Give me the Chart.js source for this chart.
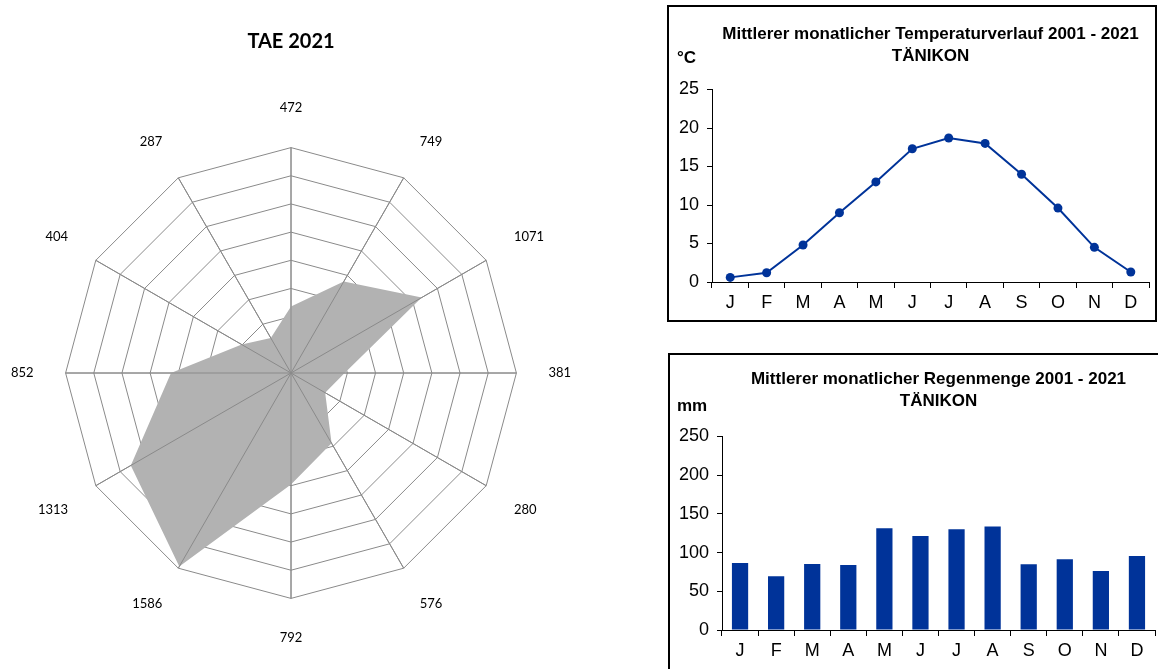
<!DOCTYPE html>
<html>
<head>
<meta charset="utf-8">
<script src="https://cdn.jsdelivr.net/npm/chart.js@4/dist/chart.umd.min.js"></script>
<style>
  body { margin: 0; background: #fff; width: 1158px; height: 669px; overflow: hidden; position: relative; }
  .box { position: absolute; border: 2px solid #000; background: #fff; }
  .unit { position: absolute; font: bold 17px "Liberation Sans", Arial, sans-serif; color: #000; }
</style>
</head>
<body>
<div style="position:absolute; left:0; top:0;"><canvas id="radarChart" width="582" height="669"></canvas></div>

<div class="box" style="left:667px; top:5px; width:486px; height:313px;">
  <canvas id="tempChart" width="486" height="313"></canvas>
</div>
<div class="unit" style="left:677px; top:48px;">°C</div>

<div class="box" style="left:668px; top:353px; width:488px; height:330px;">
  <canvas id="rainChart" width="488" height="313"></canvas>
</div>
<div class="unit" style="left:677px; top:396px;">mm</div>

<script>
// Valeurs du graphique radar (les étiquettes sont les valeurs elles-mêmes)
const radarValues = [472, 749, 1071, 381, 280, 576, 792, 1586, 1313, 852, 404, 287];
const radarLabels = ['472', '749', '1071', '381', '280', '576', '792', '1586', '1313', '852', '404', '287'];

// Données mensuelles Tänikon
const months = ['J', 'F', 'M', 'A', 'M', 'J', 'J', 'A', 'S', 'O', 'N', 'D'];
const temperature = [0.6, 1.2, 4.8, 9.0, 13.0, 17.3, 18.7, 18.0, 14.0, 9.6, 4.5, 1.3];
const rainfall = [86.5, 69.6, 85.2, 83.9, 131.5, 121.5, 130.2, 133.6, 84.8, 91.3, 76.1, 95.6];

const blue = '#003399';
const arial = '"Liberation Sans", Arial, sans-serif';

// spokes drawn over the filled area, like the original
const spokesOnTop = {
    id: 'spokesOnTop',
    afterDatasetsDraw(chart) {
        const scale = chart.scales.r;
        const ctx = chart.ctx;
        ctx.save();
        ctx.strokeStyle = '#8a8a8a';
        ctx.lineWidth = 1;
        for (let i = 0; i < chart.data.labels.length; i++) {
            const p = scale.getPointPositionForValue(i, scale.max);
            ctx.beginPath();
            ctx.moveTo(scale.xCenter, scale.yCenter);
            ctx.lineTo(p.x, p.y);
            ctx.stroke();
        }
        ctx.restore();
    }
};

new Chart(document.getElementById('radarChart').getContext('2d'), {
    type: 'radar',
    data: {
        labels: radarLabels,
        datasets: [{
            data: radarValues,
            backgroundColor: '#b2b2b2',
            borderWidth: 0,
            pointRadius: 0,
            fill: true
        }]
    },
    options: {
        responsive: false,
        animation: false,
        layout: { padding: { bottom: 22 } },
        plugins: {
            legend: { display: false },
            tooltip: { enabled: false },
            title: {
                display: true,
                text: 'TAE 2021',
                color: '#000',
                font: { family: 'Lato', size: 20, weight: 'bold' },
                padding: { top: 30, bottom: 46 }
            }
        },
        scales: {
            r: {
                min: 0,
                max: 1600,
                ticks: { stepSize: 200, display: false },
                grid: { color: '#8a8a8a', lineWidth: 1 },
                angleLines: { color: '#8a8a8a', lineWidth: 1 },
                pointLabels: {
                    color: '#000',
                    font: { family: 'Lato', size: 13 },
                    padding: 32
                }
            }
        }
    },
    plugins: [spokesOnTop]
});

function axisOpts(extra) {
    return Object.assign({
        border: { display: true, color: '#000', width: 1 },
        grid: { display: true, drawOnChartArea: false, drawTicks: true, tickLength: 5, color: '#000' }
    }, extra);
}

new Chart(document.getElementById('tempChart').getContext('2d'), {
    type: 'line',
    data: {
        labels: months,
        datasets: [{
            data: temperature,
            borderColor: blue,
            backgroundColor: blue,
            borderWidth: 2,
            pointRadius: 4.5,
            pointBackgroundColor: blue,
            pointBorderWidth: 0,
            tension: 0
        }]
    },
    options: {
        responsive: false,
        animation: false,
        layout: { padding: { right: 6 } },
        plugins: {
            legend: { display: false },
            tooltip: { enabled: false },
            title: {
                display: true,
                fullSize: false,
                text: ['Mittlerer monatlicher Temperaturverlauf 2001 - 2021', 'TÄNIKON'],
                color: '#000',
                font: { family: arial, size: 17, weight: 'bold', lineHeight: 1.25 },
                padding: { top: 17, bottom: 23 }
            }
        },
        scales: {
            x: axisOpts({
                offset: true,
                grid: { display: true, offset: true, drawOnChartArea: false, drawTicks: true, tickLength: 6, color: '#000' },
                ticks: { color: '#000', padding: 4, font: { family: arial, size: 18 } },
                afterFit(scale) { scale.height = 38; }
            }),
            y: axisOpts({
                min: 0,
                max: 25,
                ticks: { stepSize: 5, color: '#000', padding: 8, font: { family: arial, size: 18 } },
                afterFit(scale) { scale.width = 43; }
            })
        }
    }
});

new Chart(document.getElementById('rainChart').getContext('2d'), {
    type: 'bar',
    data: {
        labels: months,
        datasets: [{
            data: rainfall,
            backgroundColor: blue,
            barPercentage: 0.9,
            categoryPercentage: 0.5
        }]
    },
    options: {
        responsive: false,
        animation: false,
        layout: { padding: { right: 3 } },
        plugins: {
            legend: { display: false },
            tooltip: { enabled: false },
            title: {
                display: true,
                fullSize: false,
                text: ['Mittlerer monatlicher Regenmenge 2001 - 2021', 'TÄNIKON'],
                color: '#000',
                font: { family: arial, size: 17, weight: 'bold', lineHeight: 1.25 },
                padding: { top: 14, bottom: 25 }
            }
        },
        scales: {
            x: axisOpts({
                offset: true,
                grid: { display: true, offset: true, drawOnChartArea: false, drawTicks: true, tickLength: 6, color: '#000' },
                ticks: { color: '#000', padding: 4, font: { family: arial, size: 18 } },
                afterFit(scale) { scale.height = 38; }
            }),
            y: axisOpts({
                min: 0,
                max: 250,
                ticks: { stepSize: 50, color: '#000', padding: 8, font: { family: arial, size: 18 } },
                afterFit(scale) { scale.width = 52; }
            })
        }
    }
});
</script>
</body>
</html>
